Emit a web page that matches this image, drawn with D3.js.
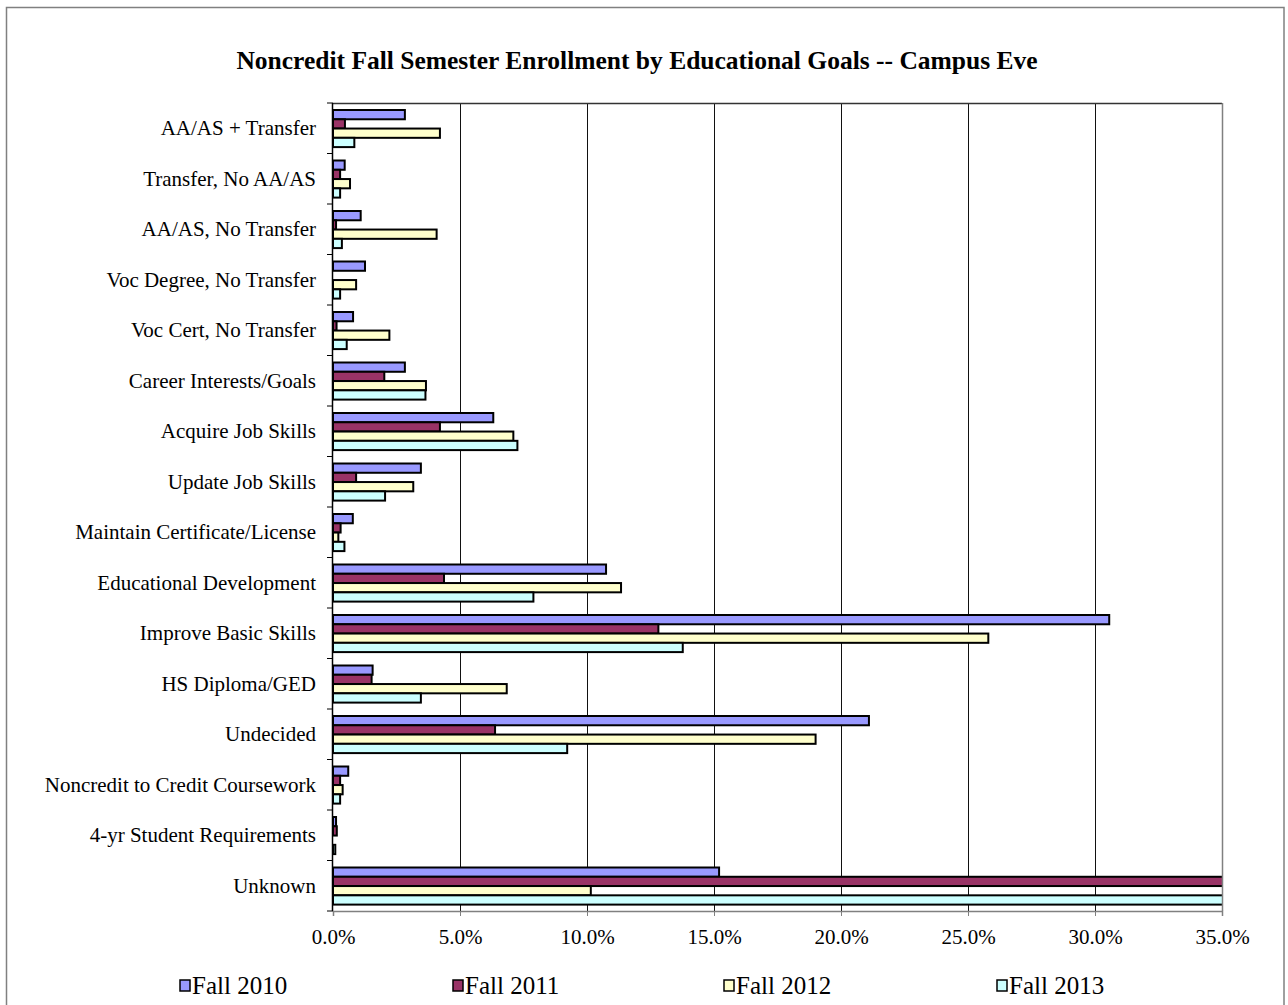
<!DOCTYPE html>
<html>
<head>
<meta charset="utf-8">
<script src="https://cdn.jsdelivr.net/npm/d3@7"></script>
<style>
  html, body { margin: 0; padding: 0; background: #fff; }
  svg { display: block; }
  text { font-family: "Liberation Serif", "Times New Roman", serif; fill: #000; }
</style>
</head>
<body>
<svg id="chart" width="1288" height="1005"></svg>
<script>
const chartTitle = "Noncredit Fall Semester Enrollment by Educational Goals -- Campus Eve";
const categories = [
  "AA/AS + Transfer", "Transfer, No AA/AS", "AA/AS, No Transfer", "Voc Degree, No Transfer",
  "Voc Cert, No Transfer", "Career Interests/Goals", "Acquire Job Skills", "Update Job Skills",
  "Maintain Certificate/License", "Educational Development", "Improve Basic Skills", "HS Diploma/GED",
  "Undecided", "Noncredit to Credit Coursework", "4-yr Student Requirements", "Unknown"
];
const seriesNames = ["Fall 2010", "Fall 2011", "Fall 2012", "Fall 2013"];
const fall2010 = [2.83, 0.46, 1.09, 1.26, 0.79, 2.83, 6.31, 3.46, 0.78, 10.75, 30.56, 1.56, 21.1, 0.60, 0.12, 15.2];
const fall2011 = [0.47, 0.28, 0.12, 0.00, 0.14, 2.02, 4.21, 0.91, 0.30, 4.37, 12.81, 1.52, 6.38, 0.28, 0.15, 38.0];
const fall2012 = [4.21, 0.67, 4.08, 0.91, 2.22, 3.66, 7.10, 3.16, 0.21, 11.34, 25.8, 6.84, 19.0, 0.38, 0.00, 10.15];
const fall2013 = [0.84, 0.28, 0.35, 0.28, 0.54, 3.64, 7.26, 2.05, 0.45, 7.89, 13.77, 3.46, 9.22, 0.28, 0.09, 37.0];
const xTicks = [0, 5, 10, 15, 20, 25, 30, 35];
const colors = ["#9999FF", "#993366", "#FFFFCC", "#CCFFFF"];

const seriesValues = [fall2010, fall2011, fall2012, fall2013];

const svg = d3.select("#chart");

// outer frame
svg.append("rect").attr("x", 6.5).attr("y", 7.5).attr("width", 1277.5).attr("height", 1010)
  .attr("fill", "#fff").attr("stroke", "#808080").attr("stroke-width", 1.5);

// title
svg.append("text").attr("x", 637).attr("y", 69).attr("text-anchor", "middle")
  .style("font-size", "25.5px").style("font-weight", "bold").text(chartTitle);

const plot = { left: 333, right: 1222, top: 103, bottom: 911 };

const x = d3.scaleLinear().domain([0, 35]).range([plot.left, plot.right]);
const y = d3.scaleBand().domain(categories).range([plot.top, plot.bottom]).paddingInner(0).paddingOuter(0);
const groupPad = 7;
const y1 = d3.scaleBand().domain(seriesNames).range([groupPad, y.bandwidth() - groupPad + 0.6]).paddingInner(0).paddingOuter(0);

// gridlines
svg.append("g").selectAll("line").data(xTicks.filter(t => t > 0 && t < 35)).join("line")
  .attr("x1", d => x(d) + 0.5).attr("x2", d => x(d) + 0.5)
  .attr("y1", plot.top).attr("y2", plot.bottom)
  .attr("stroke", "#111").attr("stroke-width", 1);

// clip
svg.append("clipPath").attr("id", "plotClip").append("rect")
  .attr("x", plot.left - 2).attr("y", plot.top).attr("width", plot.right - plot.left + 2).attr("height", plot.bottom - plot.top);

// bars
const barsG = svg.append("g").attr("clip-path", "url(#plotClip)");
const rows = [];
categories.forEach((c, ci) => {
  seriesNames.forEach((s, si) => {
    rows.push({ cat: c, series: s, si, value: seriesValues[si][ci] });
  });
});
barsG.selectAll("rect").data(rows.filter(d => d.value > 0)).join("rect")
  .attr("x", x(0))
  .attr("y", d => y(d.cat) + y1(d.series))
  .attr("width", d => x(d.value) - x(0))
  .attr("height", y1.bandwidth())
  .attr("fill", d => colors[d.si])
  .attr("stroke", "#000").attr("stroke-width", 2);

// plot border (top, right)
svg.append("line").attr("x1", plot.left).attr("x2", plot.right).attr("y1", plot.top + 0.5).attr("y2", plot.top + 0.5)
  .attr("stroke", "#333").attr("stroke-width", 1.5);
svg.append("line").attr("x1", plot.right + 0.5).attr("x2", plot.right + 0.5).attr("y1", plot.top).attr("y2", plot.bottom)
  .attr("stroke", "#808080").attr("stroke-width", 1.5);

// x axis
const xAxis = d3.axisBottom(x).tickValues(xTicks).tickSize(5).tickPadding(13)
  .tickFormat(d => d3.format(".1f")(d) + "%");
const gx = svg.append("g").attr("transform", `translate(0,${plot.bottom})`).call(xAxis);
gx.select(".domain").attr("stroke", "#808080").attr("stroke-width", 1.5);
gx.selectAll(".tick line").attr("stroke", "#808080");
gx.selectAll(".tick text").style("font-size", "21px").style("font-family", "'Liberation Serif', serif").attr("fill", "#000");

// y axis
const yEdges = categories.map(c => y(c)).concat([plot.bottom]);
svg.append("line").attr("x1", plot.left - 0.5).attr("x2", plot.left - 0.5).attr("y1", plot.top).attr("y2", plot.bottom)
  .attr("stroke", "#000").attr("stroke-width", 1.5);
svg.append("g").selectAll("line").data(yEdges).join("line")
  .attr("x1", plot.left - 6).attr("x2", plot.left).attr("y1", d => d).attr("y2", d => d)
  .attr("stroke", "#000").attr("stroke-width", 1);
svg.append("g").selectAll("text").data(categories).join("text")
  .attr("x", 316).attr("y", d => y(d) + y.bandwidth() / 2).attr("dy", "0.33em")
  .attr("text-anchor", "end").style("font-size", "21px").text(d => d);

// legend
const legendX = [180, 453, 724, 997];
const lg = svg.append("g").selectAll("g").data(seriesNames).join("g")
  .attr("transform", (d, i) => `translate(${legendX[i]},980)`);
lg.append("rect").attr("x", 0).attr("y", 0).attr("width", 10).attr("height", 11)
  .attr("fill", (d, i) => colors[i]).attr("stroke", "#000").attr("stroke-width", 1.5);
lg.append("text").attr("x", 12).attr("y", 14).style("font-size", "25px").text(d => d);
</script>
</body>
</html>
